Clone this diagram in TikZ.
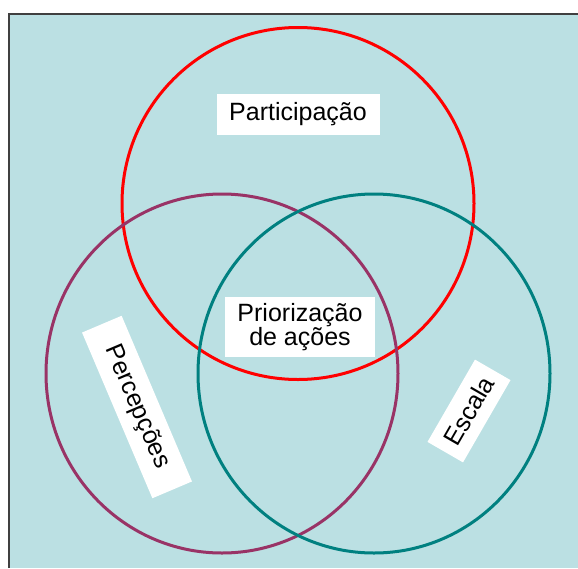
\documentclass[tikz,border=0pt]{standalone}
\usepackage{fontspec}
\usetikzlibrary{shapes.geometric}
\setmainfont{Liberation Sans}
\definecolor{bgblue}{RGB}{187,224,227}
\definecolor{ringred}{RGB}{255,0,0}
\definecolor{ringpurple}{RGB}{153,51,102}
\definecolor{ringteal}{RGB}{0,128,128}
\begin{document}
\begin{tikzpicture}[x=1pt, y=-1pt, ring/.style = {draw, ellipse, line width=3pt, minimum width=352pt, minimum height=352pt, inner sep=0pt}, lbl/.style = {fill=white, inner sep=0pt, align=center, font=\fontsize{25}{24}\selectfont}]
\useasboundingbox (0,0) rectangle (578,568);
\fill[bgblue] (9,14) rectangle (578,568);
\draw[line width=1.5pt, black!75] (9,568) -- (9,14) -- (578,14);
\node[ring, draw=ringred] (part) at (298,203.5) {};
\node[ring, draw=ringpurple, minimum height=359pt] (perc) at (222,373.5) {};
\node[ring, draw=ringteal, minimum height=359pt] (esc) at (374,373.5) {};
\node[lbl, minimum width=163pt, minimum height=41pt] (partlbl) at (298,114) {Participação};
\node[lbl, minimum width=150pt, minimum height=60pt] (priolbl) at (300,327) {Priorização\\de ações};
\node[lbl, minimum width=180pt, minimum height=43pt, rotate=-67] (perclbl) at (137,407) {Percepções};
\node[lbl, minimum width=95pt, minimum height=41pt, rotate=60] (esclbl) at (469,411) {Escala};
\end{tikzpicture}
\end{document}
